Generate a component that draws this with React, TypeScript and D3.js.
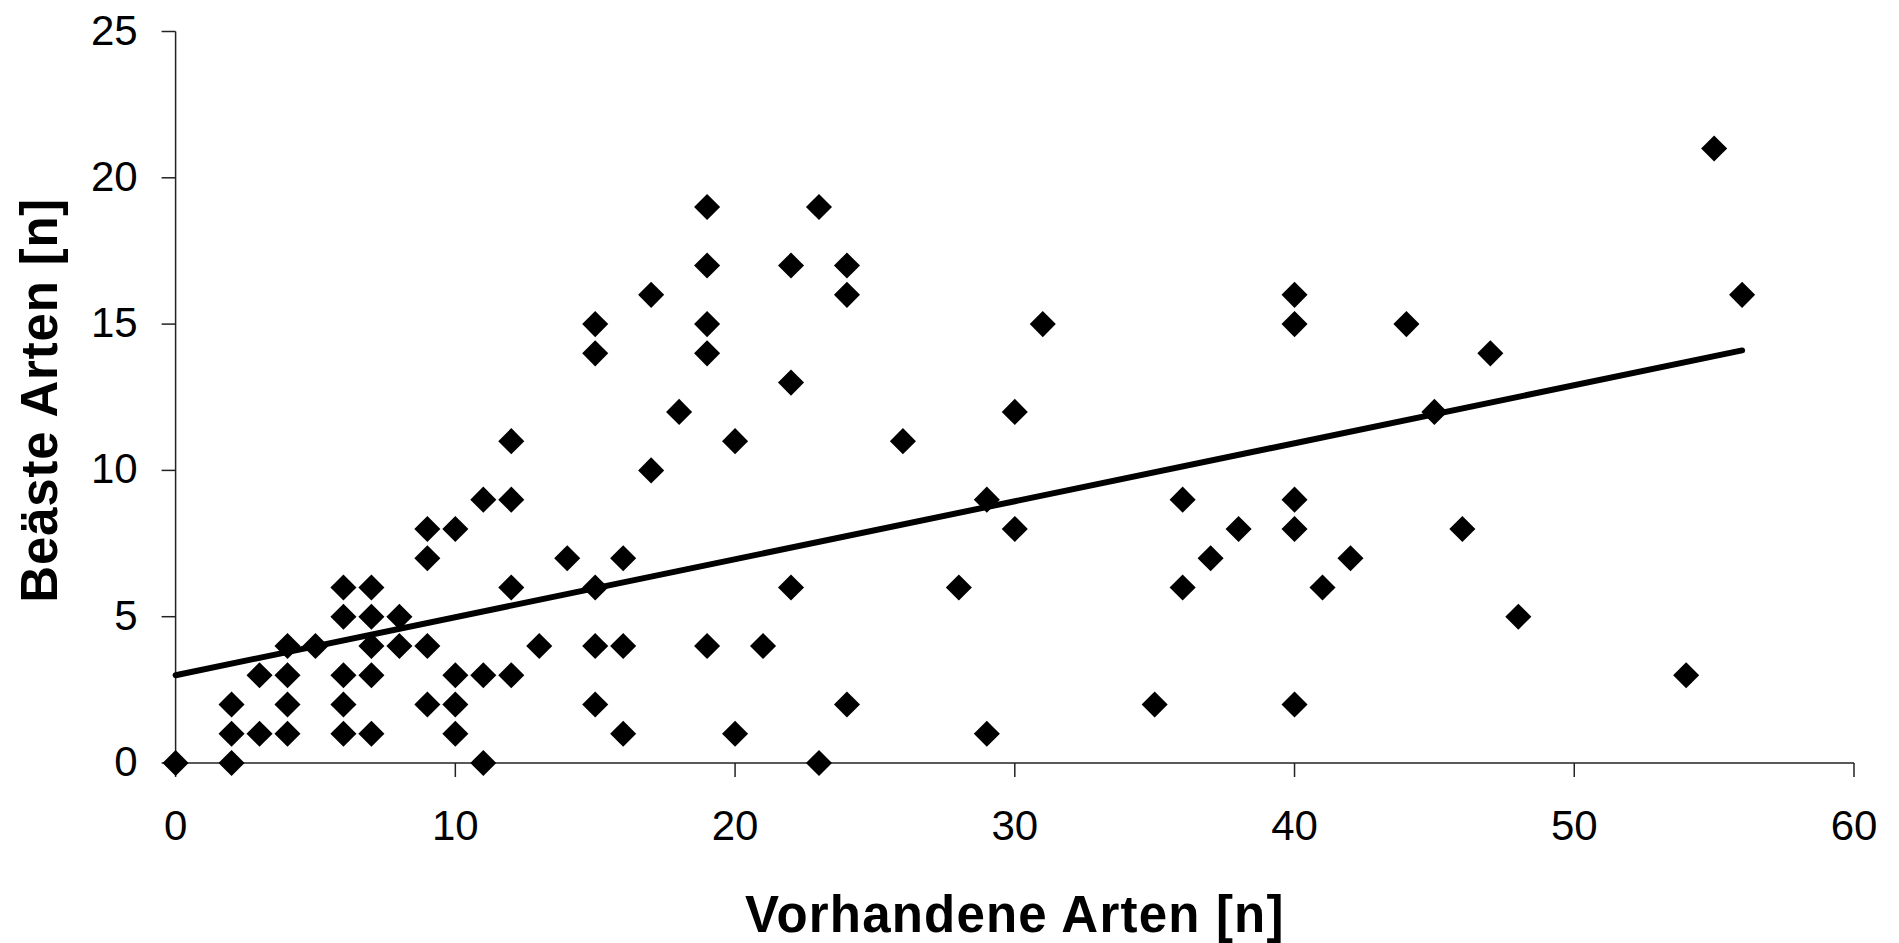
import React from "react";
import * as d3 from "d3";

// Scatter data: Vorhandene Arten (x) vs. Beäste Arten (y)
const xValues: number[] = [
  0,
  2, 2, 2,
  3, 3,
  4, 4, 4, 4,
  5,
  6, 6, 6, 6, 6,
  7, 7, 7, 7, 7,
  8, 8,
  9, 9, 9, 9,
  10, 10, 10, 10,
  11, 11, 11,
  12, 12, 12, 12,
  13,
  14,
  15, 15, 15, 15, 15,
  16, 16, 16,
  17, 17,
  18,
  19, 19, 19, 19, 19,
  20, 20,
  21,
  22, 22, 22,
  23, 23,
  24, 24, 24,
  26,
  28,
  29, 29,
  30, 30,
  31,
  35,
  36, 36,
  37,
  38,
  40, 40, 40, 40, 40,
  41,
  42,
  44,
  45,
  46,
  47,
  48,
  54,
  55,
  56,
];
const yValues: number[] = [
  0,
  2, 1, 0,
  3, 1,
  4, 3, 2, 1,
  4,
  6, 5, 3, 2, 1,
  6, 5, 4, 3, 1,
  5, 4,
  8, 7, 4, 2,
  8, 3, 2, 1,
  9, 3, 0,
  11, 9, 6, 3,
  4,
  7,
  15, 14, 6, 4, 2,
  7, 4, 1,
  16, 10,
  12,
  19, 17, 15, 14, 4,
  11, 1,
  4,
  17, 13, 6,
  19, 0,
  17, 16, 2,
  11,
  6,
  9, 1,
  12, 8,
  15,
  2,
  9, 6,
  7,
  8,
  16, 15, 9, 8, 2,
  6,
  7,
  15,
  12,
  8,
  14,
  5,
  3,
  21,
  16,
];

// Linear trend line (endpoints)
const trendX: number[] = [0, 56];
const trendY: number[] = [3.0, 14.1];

const xTicks: number[] = [0, 10, 20, 30, 40, 50, 60];
const yTicks: number[] = [0, 5, 10, 15, 20, 25];

const xTitle = "Vorhandene Arten [n]";
const yTitle = "Beäste Arten [n]";

const W = 1899;
const H = 943;
const left = 175.6;
const right = 1854;
const top = 31.5;
const bottom = 763;

export default function App() {
  const x = d3.scaleLinear().domain([0, 60]).range([left, right]);
  const y = d3.scaleLinear().domain([0, 25]).range([bottom, top]);

  const diamond = d3.symbol().type(d3.symbolSquare).size(340)() as string;
  const line = d3
    .line<number>()
    .x((_, i) => x(trendX[i]))
    .y((d) => y(d));

  const axisColor = "#222";
  const font = "'Liberation Sans', Arial, sans-serif";

  return (
    <svg
      width={W}
      height={H}
      style={{ position: "absolute", left: 0, top: 0, display: "block", background: "#fff" }}
      fontFamily={font}
    >
      <rect x={0} y={0} width={W} height={H} fill="#fff" />
      {/* y axis */}
      <line x1={left} x2={left} y1={top} y2={bottom} stroke={axisColor} strokeWidth={1.5} />
      {yTicks.map((t) => (
        <g key={"y" + t}>
          <line x1={left - 14} x2={left} y1={y(t)} y2={y(t)} stroke={axisColor} strokeWidth={1.5} />
          <text x={left - 38} y={y(t) + 13} textAnchor="end" fontSize={42} fill="#000">
            {t}
          </text>
        </g>
      ))}
      {/* x axis */}
      <line x1={left} x2={right} y1={bottom} y2={bottom} stroke={axisColor} strokeWidth={1.5} />
      {xTicks.map((t) => (
        <g key={"x" + t}>
          <line x1={x(t)} x2={x(t)} y1={bottom} y2={bottom + 14} stroke={axisColor} strokeWidth={1.5} />
          <text x={x(t)} y={bottom + 77} textAnchor="middle" fontSize={42} fill="#000">
            {t}
          </text>
        </g>
      ))}
      {/* trend line */}
      <path d={line(trendY) as string} fill="none" stroke="#000" strokeWidth={6} strokeLinecap="round" />
      {/* points */}
      {xValues.map((xv, i) => (
        <path
          key={"p" + i}
          d={diamond}
          transform={`translate(${x(xv)},${y(yValues[i])}) rotate(45)`}
          fill="#000"
        />
      ))}
      {/* titles */}
      <text
        x={(left + right) / 2}
        y={932}
        textAnchor="middle"
        fontSize={51}
        fontWeight="bold"
        letterSpacing={1.2}
        fill="#000"
      >
        {xTitle}
      </text>
      <text
        transform={`translate(57,${(top + bottom) / 2 + 3}) rotate(-90)`}
        textAnchor="middle"
        fontSize={51}
        fontWeight="bold"
        letterSpacing={0.8}
        fill="#000"
      >
        {yTitle}
      </text>
    </svg>
  );
}
